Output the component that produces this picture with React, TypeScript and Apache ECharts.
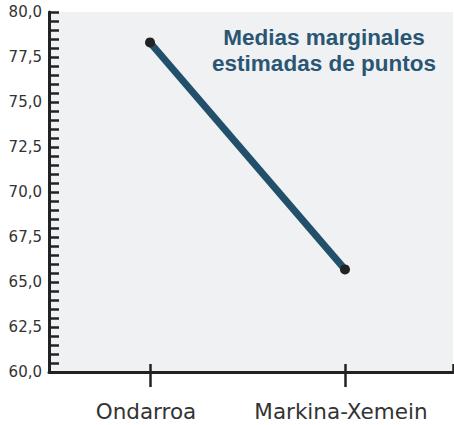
import React, { useEffect, useRef } from "react";
import * as echarts from "echarts";

const categories = ["Ondarroa", "Markina-Xemein"];
const means = [78.31, 65.7];
const yTicks = [60, 62.5, 65, 67.5, 70, 72.5, 75, 77.5, 80];
const titleLines = ["Medias marginales", "estimadas de puntos"];

export default function App() {
  const ref = useRef<HTMLDivElement>(null);
  useEffect(() => {
    if (!ref.current) return;
    const chart = echarts.init(ref.current, null, { renderer: "svg" });
    const xMin = -0.518;
    const xMax = 1.554;
    chart.setOption({
      animation: false,
      backgroundColor: "#ffffff",
      title: {
        text: titleLines.join("\n"),
        left: 319,
        top: 20,
        textAlign: "center",
        textStyle: {
          fontFamily: "Liberation Sans",
          fontWeight: "bold",
          fontSize: 22.5,
          lineHeight: 25.5,
          color: "#2a5674",
        },
      },
      grid: {
        left: 49,
        top: 12,
        right: 1,
        bottom: 53,
        show: true,
        backgroundColor: "#f0f1f3",
        borderWidth: 0,
      },
      xAxis: [
        {
          type: "value",
          min: xMin,
          max: xMax,
          position: "bottom",
          axisLine: { show: true, onZero: false, lineStyle: { color: "#222", width: 3 } },
          axisTick: {
            show: true,
            customValues: [0, 1],
            length: 15,
            lineStyle: { color: "#222", width: 2.5 },
          },
          axisLabel: {
            customValues: [0, 1],
            formatter: (v: number) => categories[Math.round(v)] ?? "",
            margin: 28,
            padding: [0, 8, 0, 0],
            fontFamily: "DejaVu Sans",
            fontSize: 21.5,
            color: "#333",
          },
          splitLine: { show: false },
        },
        {
          type: "value",
          min: xMin,
          max: xMax,
          position: "bottom",
          axisLine: { show: false, onZero: false },
          axisTick: {
            show: true,
            inside: true,
            customValues: [0, 1, xMax],
            length: 8,
            lineStyle: { color: "#222", width: 2.5 },
          },
          axisLabel: { show: false },
          splitLine: { show: false },
        },
      ],
      yAxis: {
        type: "value",
        min: yTicks[0],
        max: yTicks[yTicks.length - 1],
        interval: 2.5,
        axisLine: { show: true, onZero: false, lineStyle: { color: "#222", width: 3 } },
        axisTick: { show: true, inside: true, length: 10, lineStyle: { color: "#222", width: 2.5 } },
        minorTick: { show: true, splitNumber: 5, length: 10, lineStyle: { color: "#222", width: 2.5 } },
        axisLabel: {
          margin: 7,
          fontFamily: "DejaVu Sans",
          fontSize: 15,
          color: "#333",
          formatter: (v: number) => v.toFixed(1).replace(".", ","),
        },
        splitLine: { show: false },
        minorSplitLine: { show: false },
      },
      series: [
        {
          type: "line",
          xAxisIndex: 0,
          data: means.map((v, i) => [i, v]),
          lineStyle: { color: "#22506b", width: 7 },
          symbol: "circle",
          symbolSize: 10,
          itemStyle: { color: "#222" },
          z: 3,
        },
      ],
    });
    return () => chart.dispose();
  }, []);
  return (
    <div
      ref={ref}
      style={{ position: "fixed", left: 0, top: 0, width: 454, height: 425 }}
    />
  );
}
